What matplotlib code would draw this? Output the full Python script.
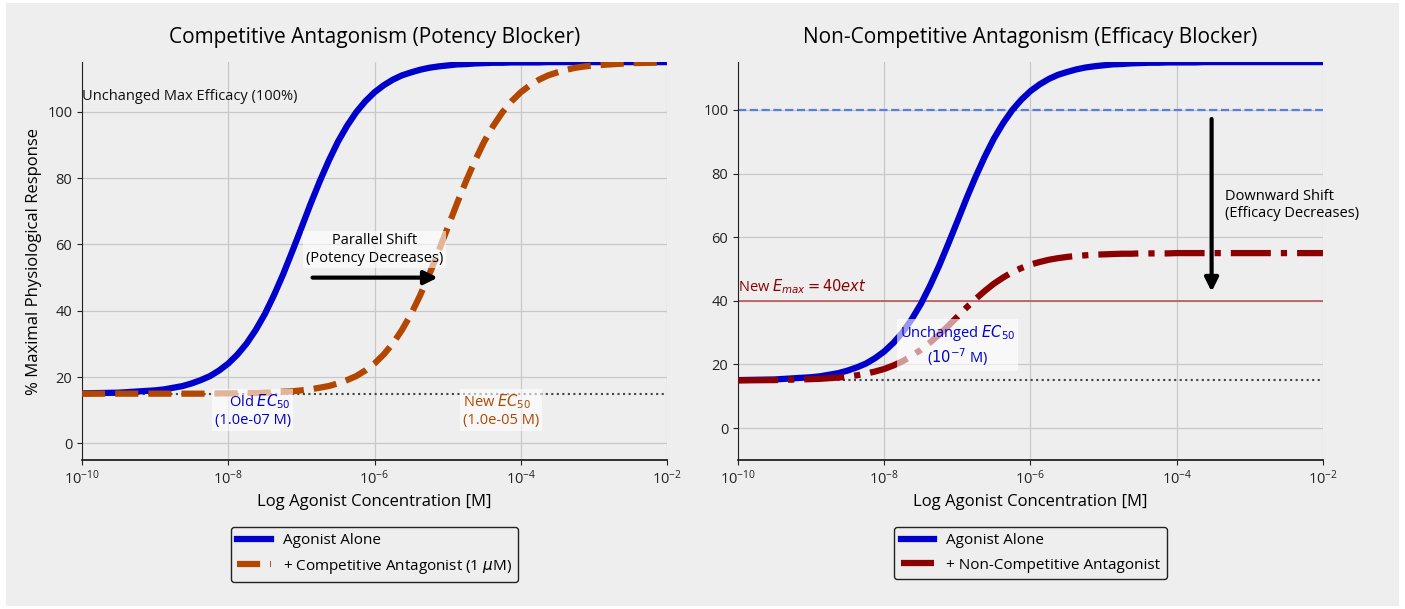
import matplotlib
matplotlib.use("Agg")
import matplotlib.pyplot as plt
from matplotlib.patches import Rectangle

plt.rcParams["font.family"] = ["Open Sans", "DejaVu Sans"]
plt.rcParams["mathtext.fontset"] = "dejavusans"

# log10 of agonist concentration; eighth-decade steps through the rising parts
log_conc = [-10.0, -9.5,
            -9.0, -8.875, -8.75, -8.625, -8.5, -8.375, -8.25, -8.125,
            -8.0, -7.875, -7.75, -7.625, -7.5, -7.375, -7.25, -7.125,
            -7.0, -6.875, -6.75, -6.625, -6.5, -6.375, -6.25, -6.125,
            -6.0, -5.875, -5.75, -5.625, -5.5, -5.375, -5.25, -5.125,
            -5.0, -4.875, -4.75, -4.625, -4.5, -4.375, -4.25, -4.125,
            -4.0, -3.875, -3.75, -3.625, -3.5, -3.375, -3.25, -3.125,
            -3.0, -2.5, -2.0]
conc = [10 ** v for v in log_conc]

agonist_alone = [15.1, 15.3,
                 16.0, 16.3, 16.8, 17.3, 18.1, 19.1, 20.3, 22.0,
                 24.1, 26.8, 30.1, 34.2, 39.0, 44.7, 51.0, 57.9,
                 65.0, 72.2, 79.0, 85.3, 91.0, 95.8, 99.9, 103.2,
                 105.9, 108.0, 109.7, 111.0, 111.9, 112.7, 113.3, 113.7,
                 114.0, 114.3, 114.4, 114.6, 114.7, 114.8, 114.8, 114.9,
                 114.9, 114.9, 114.9, 115.0, 115.0, 115.0, 115.0, 115.0,
                 115.0, 115.0, 115.0]
competitive = [15.0, 15.0,
               15.0, 15.0, 15.0, 15.0, 15.0, 15.0, 15.0, 15.1,
               15.1, 15.1, 15.2, 15.2, 15.3, 15.4, 15.6, 15.7,
               16.0, 16.3, 16.8, 17.3, 18.1, 19.1, 20.3, 22.0,
               24.1, 26.8, 30.1, 34.2, 39.0, 44.7, 51.0, 57.9,
               65.0, 72.2, 79.0, 85.3, 91.0, 95.8, 99.9, 103.2,
               105.9, 108.0, 109.7, 111.0, 111.9, 112.7, 113.3, 113.7,
               114.0, 114.7, 114.9]
non_competitive = [15.0, 15.1,
                   15.4, 15.5, 15.7, 15.9, 16.2, 16.6, 17.1, 17.8,
                   18.6, 19.7, 21.0, 22.7, 24.6, 26.9, 29.4, 32.1,
                   35.0, 37.9, 40.6, 43.1, 45.4, 47.3, 49.0, 50.3,
                   51.4, 52.2, 52.9, 53.4, 53.8, 54.1, 54.3, 54.5,
                   54.6, 54.7, 54.8, 54.8, 54.9, 54.9, 54.9, 54.9,
                   55.0, 55.0, 55.0, 55.0, 55.0, 55.0, 55.0, 55.0,
                   55.0, 55.0, 55.0]

baseline = 15
old_ec50 = 1e-7
new_ec50 = 1e-5
full_emax = 100
new_emax = 40

BG = "#eeeeee"
BLUE = "#0000cc"
ORANGE = "#b34700"
DARKRED = "#8b0000"

fig = plt.figure(figsize=(14.05, 6.09), dpi=100, facecolor="white")
fig.patches.append(Rectangle((0.004, 0.005), 0.992, 0.99, transform=fig.transFigure,
                             facecolor=BG, edgecolor="none", zorder=-10))
ax1 = fig.add_axes([0.0584, 0.2447, 0.4163, 0.6533])
ax2 = fig.add_axes([0.5253, 0.2447, 0.4163, 0.6533])

text_box = dict(facecolor="white", alpha=0.6, edgecolor="none", pad=2)
legend_kw = dict(loc="upper center", bbox_to_anchor=(0.5, -0.15), fontsize=11,
                 facecolor=BG, edgecolor="#222222", framealpha=1,
                 handlelength=2.2, labelspacing=0.6)

for ax in (ax1, ax2):
    ax.set_facecolor(BG)
    ax.set_xscale("log")
    ax.set_xlim(1e-10, 1e-2)
    ax.set_xticks([1e-10, 1e-8, 1e-6, 1e-4, 1e-2])
    ax.minorticks_off()
    ax.set_yticks([0, 20, 40, 60, 80, 100])
    ax.grid(True, color="#c8c8c8", lw=0.9)
    ax.set_axisbelow(True)
    for s in ("top", "right"):
        ax.spines[s].set_visible(False)
    ax.spines["left"].set_color("#222222")
    ax.spines["bottom"].set_color("#222222")
    ax.spines["bottom"].set_linewidth(1.3)
    ax.tick_params(labelsize=10.5, colors="#222222")
    ax.set_xlabel("Log Agonist Concentration [M]", fontsize=12)
    ax.axhline(baseline, color="#444444", ls=":", lw=1.5, zorder=1)

# competitive antagonism: same ceiling, curve moved right
ax1.set_ylim(-5, 115)
ax1.plot(conc, agonist_alone, color=BLUE, lw=4.5, label="Agonist Alone", zorder=3)
ax1.plot(conc, competitive, color=ORANGE, lw=4.5, ls="--",
         label=r"+ Competitive Antagonist (1 $\mu$M)", zorder=3)
ax1.set_title("Competitive Antagonism (Potency Blocker)", fontsize=15, pad=14)
ax1.set_ylabel("% Maximal Physiological Response", fontsize=12)
ax1.text(1e-10, 104.5, "Unchanged Max Efficacy (100%)", fontsize=10.5,
         ha="left", va="center", color="#111111")
ax1.annotate("", xy=(8e-6, 50), xytext=(1.3e-7, 50),
             arrowprops=dict(arrowstyle="-|>", color="black", lw=3,
                             mutation_scale=20), zorder=5)
ax1.text(1e-6, 58.5, "Parallel Shift\n(Potency Decreases)", fontsize=10.5,
         ha="center", va="center", bbox=text_box, zorder=4)
ax1.text(old_ec50 / 1.4, 10, "Old $EC_{50}$\n(%.1e M)" % old_ec50,
         fontsize=10.5, color=BLUE, ha="right", va="center",
         bbox=text_box, zorder=4)
ax1.text(new_ec50 * 1.6, 10, "New $EC_{50}$\n(%.1e M)" % new_ec50,
         fontsize=10.5, color=ORANGE, ha="left", va="center",
         bbox=text_box, zorder=4)
ax1.legend(**legend_kw)

# non-competitive antagonism: same EC50, lower ceiling
ax2.set_ylim(-10, 115)
ax2.plot(conc, agonist_alone, color=BLUE, lw=4.5, label="Agonist Alone", zorder=3)
ax2.plot(conc, non_competitive, color=DARKRED, lw=4.5, ls="-.",
         label="+ Non-Competitive Antagonist", zorder=3)
ax2.axhline(full_emax, color="#5a7fd6", ls="--", lw=1.6, zorder=2)
ax2.axhline(new_emax, color="#b84a4a", ls="-", lw=1.1, zorder=2)
ax2.set_title("Non-Competitive Antagonism (Efficacy Blocker)", fontsize=15, pad=14)
ax2.text(1e-10, 41.5, "New $E_{max} = %dext$" % new_emax, fontsize=10.5,
         color=DARKRED, ha="left", va="bottom")
ax2.annotate("", xy=(3e-4, 42), xytext=(3e-4, 98),
             arrowprops=dict(arrowstyle="-|>", color="black", lw=3,
                             mutation_scale=20), zorder=5)
ax2.text(4.6e-4, 70, "Downward Shift\n(Efficacy Decreases)", fontsize=10.5,
         ha="left", va="center", zorder=4)
ax2.text(old_ec50, 26, "Unchanged $EC_{50}$\n($10^{-7}$ M)", fontsize=10.5,
         color=BLUE, ha="center", va="center", bbox=text_box, zorder=4)
ax2.legend(**legend_kw)

fig.savefig("out.png", dpi=100, facecolor=fig.get_facecolor())
